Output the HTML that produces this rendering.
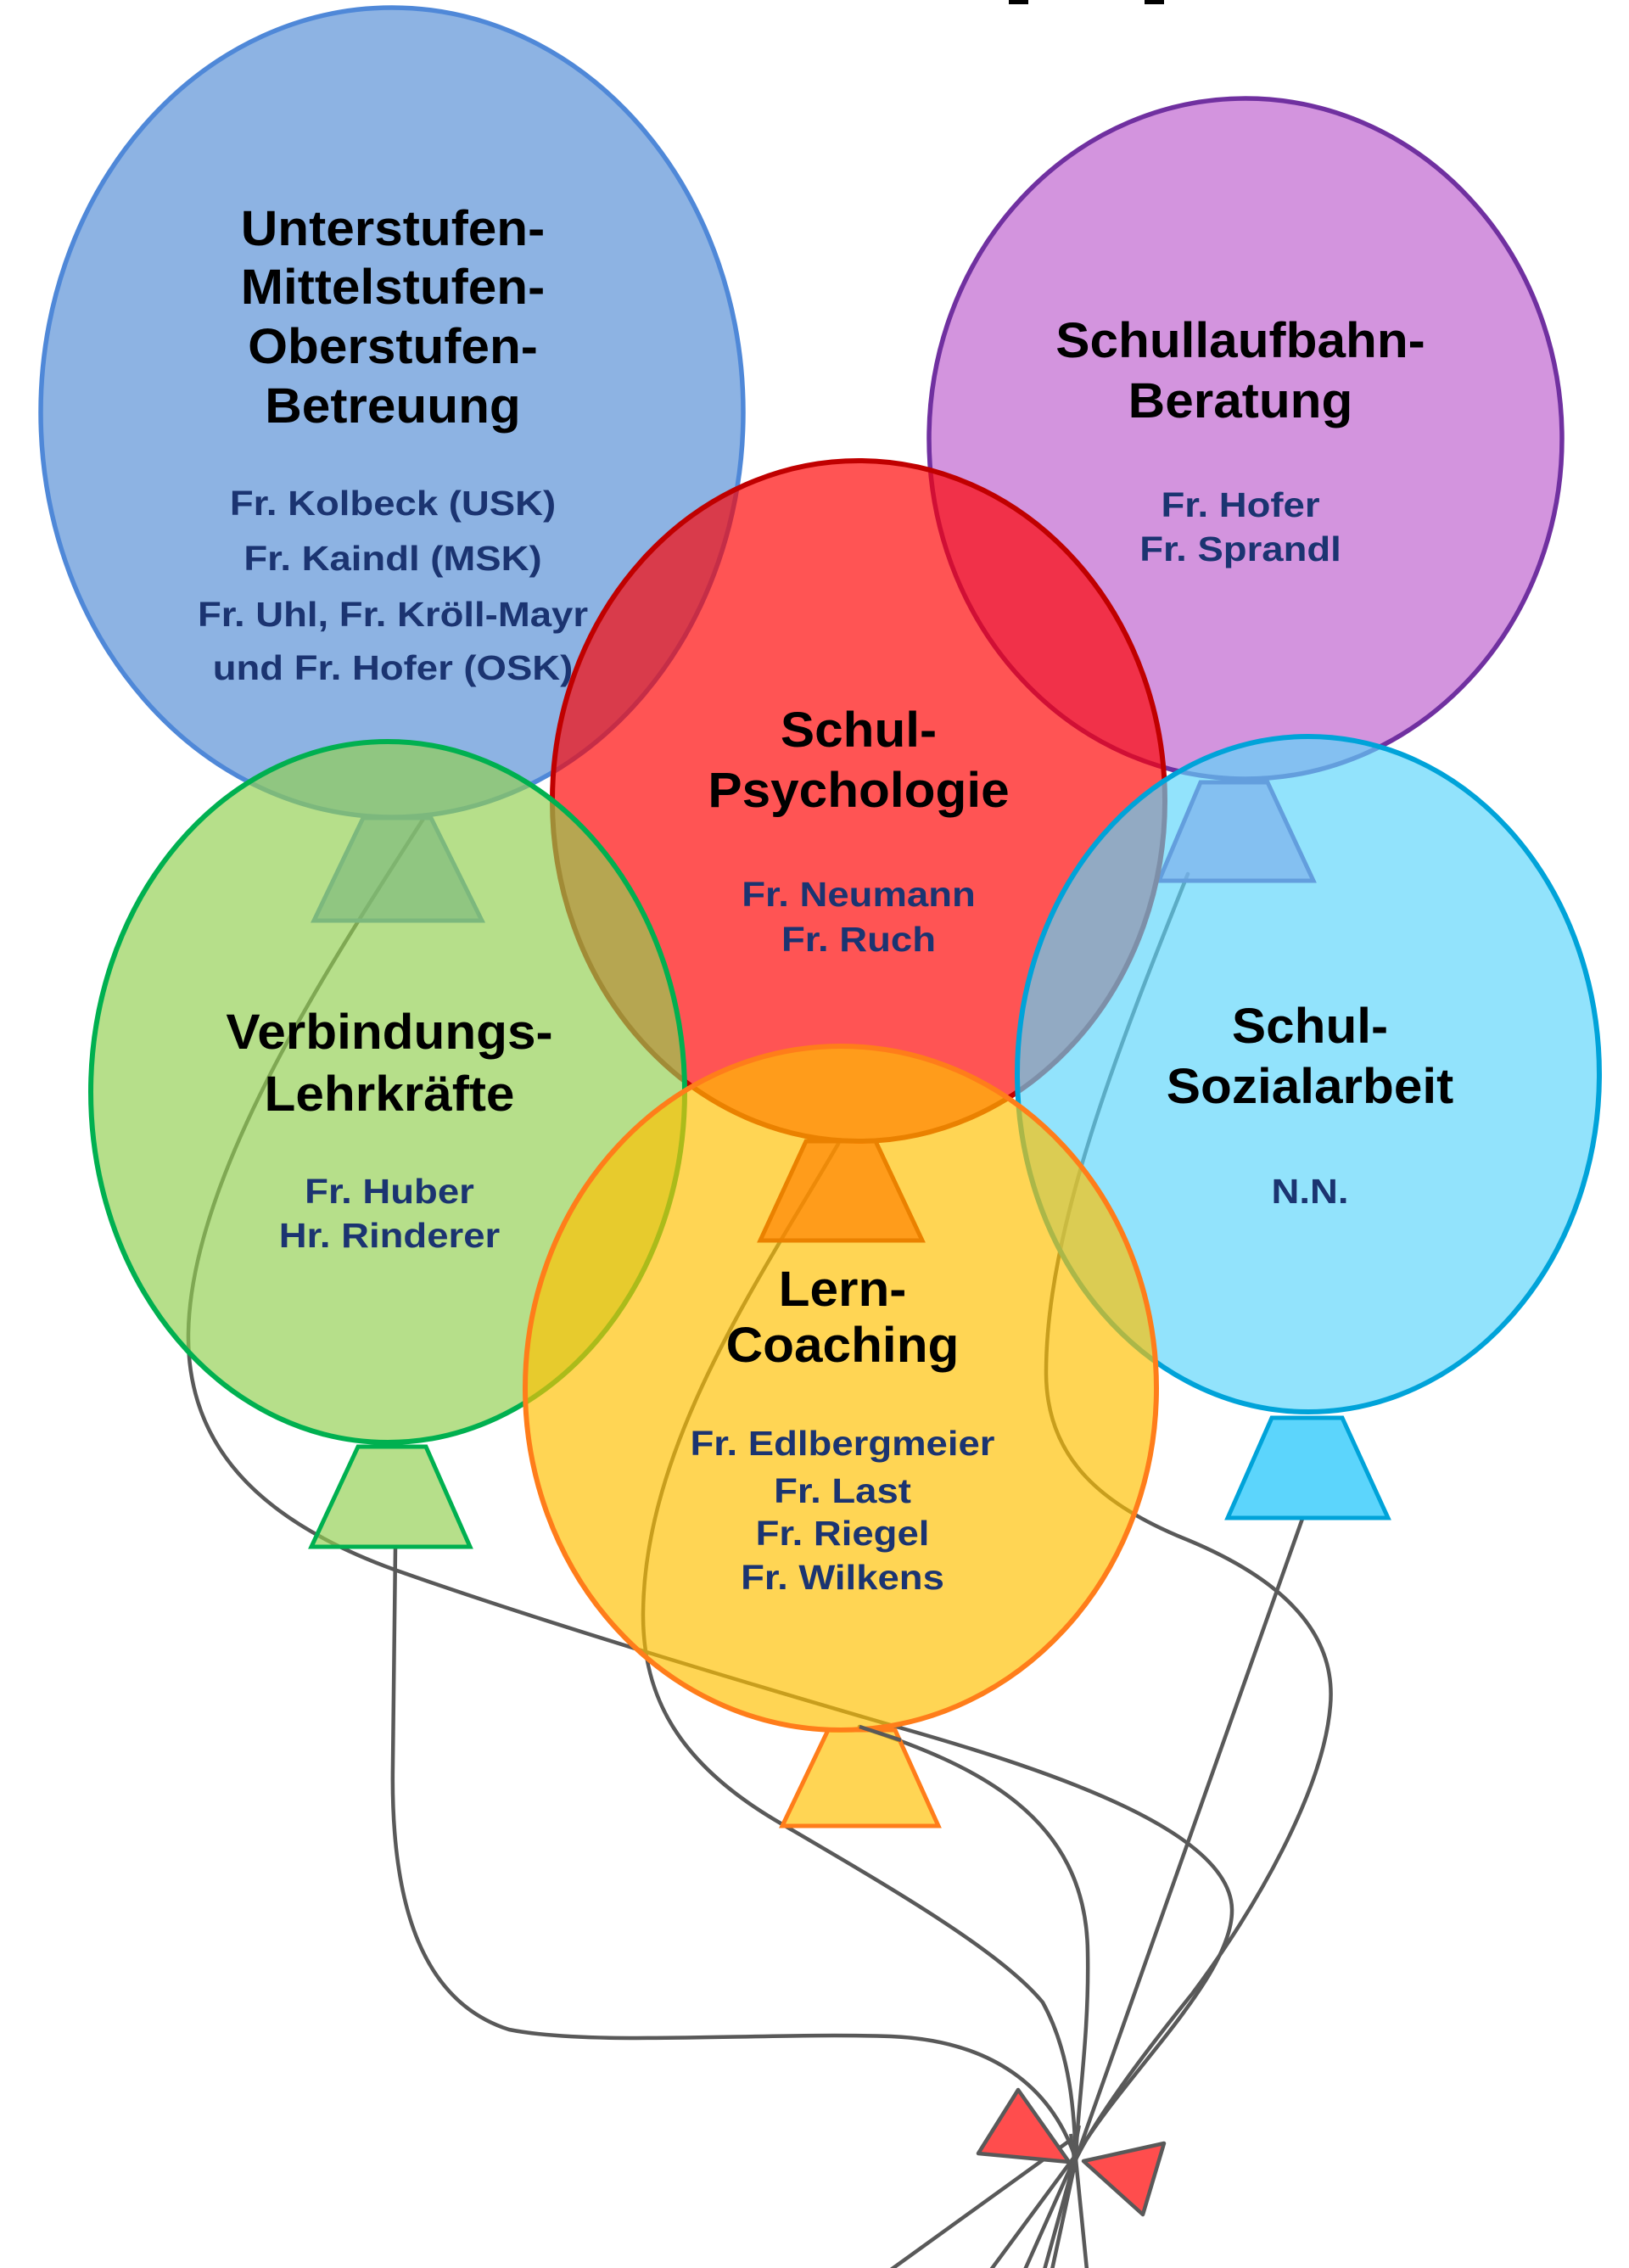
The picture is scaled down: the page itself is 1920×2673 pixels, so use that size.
<!DOCTYPE html>
<html>
<head>
<meta charset="utf-8">
<style>
html,body{margin:0;padding:0;background:#fff;}
svg{display:block;}
.t{font-family:"Liberation Sans",Arial,sans-serif;font-weight:bold;fill:#000;font-size:58px;}
.n{font-family:"Liberation Sans",Arial,sans-serif;font-weight:bold;fill:#1b3471;font-size:41px;}
</style>
</head>
<body>
<svg width="1920" height="2673" viewBox="0 0 1920 2673" xmlns="http://www.w3.org/2000/svg">
<rect x="0" y="0" width="1920" height="2673" fill="#fff"/>
<rect x="1189" y="0" width="23" height="5" fill="#000"/>
<rect x="1349" y="0" width="23" height="5" fill="#000"/>

<g fill="none" stroke="#595959" stroke-width="4.5" stroke-linecap="round">
  <path d="M 499 965 C 400 1120, 225 1380, 222 1571 C 220 1700, 300 1790, 465 1850 C 620 1905, 850 1975, 1060 2036 C 1250 2090, 1450 2160, 1452 2250 C 1454 2330, 1320 2450, 1268 2542"/>
  <path d="M 1013 2035 C 1150 2080, 1280 2140, 1282 2300 C 1284 2400, 1270 2480, 1268 2545"/>
  <path d="M 988 1348 C 900 1500, 760 1700, 758 1900 C 757 2000, 800 2080, 922 2150 C 1050 2225, 1180 2300, 1229 2360 C 1262 2420, 1266 2490, 1268 2545"/>
  <path d="M 1400 1030 C 1320 1230, 1232 1450, 1233 1620 C 1234 1720, 1300 1775, 1400 1815 C 1520 1865, 1575 1930, 1568 2010 C 1560 2110, 1480 2250, 1405 2350 C 1340 2430, 1290 2500, 1268 2545"/>
  <path d="M 1535 1790 L 1268 2545"/>
  <path d="M 466 1824 L 463 2080 C 460 2250, 500 2360, 600 2392 C 700 2412, 900 2395, 1050 2400 C 1170 2405, 1240 2460, 1268 2545"/>
  <path d="M 1262 2522 L 1050 2675"/>
  <path d="M 1264 2545 L 1168 2675"/>
  <path d="M 1266 2545 L 1208 2675"/>
  <path d="M 1267 2545 L 1231 2675"/>
  <path d="M 1268 2545 L 1240 2675"/>
  <path d="M 1268 2545 L 1281 2675"/>
</g>

<ellipse cx="462" cy="486" rx="414" ry="477" fill="#558ed5" fill-opacity="0.67" stroke="#4f88d8" stroke-width="5.5"/>
<polygon points="428,964 508,964 568,1085 370,1085" fill="#558ed5" fill-opacity="0.67" stroke="#4f88d8" stroke-width="5"/>
<g transform="translate(463,0) scale(1.04,1)">
  <text class="t" x="0" y="289" text-anchor="middle">Unterstufen-</text>
  <text class="t" x="0" y="358" text-anchor="middle">Mittelstufen-</text>
  <text class="t" x="0" y="428" text-anchor="middle">Oberstufen-</text>
  <text class="t" x="0" y="498" text-anchor="middle">Betreuung</text>
</g>
<g transform="translate(463,0) scale(1.11,1)">
  <text class="n" x="0" y="607" text-anchor="middle">Fr. Kolbeck (USK)</text>
  <text class="n" x="0" y="672" text-anchor="middle">Fr. Kaindl (MSK)</text>
  <text class="n" x="0" y="738" text-anchor="middle">Fr. Uhl, Fr. Kröll-Mayr</text>
  <text class="n" x="0" y="801" text-anchor="middle">und Fr. Hofer (OSK)</text>
</g>

<ellipse cx="1468" cy="517" rx="373" ry="401" fill="#be5fce" fill-opacity="0.67" stroke="#7030a0" stroke-width="5.5"/>
<polygon points="1415,922 1494,922 1548,1038 1366,1038" fill="#be5fce" fill-opacity="0.67" stroke="#7030a0" stroke-width="5"/>
<g transform="translate(1462,0) scale(1.04,1)">
  <text class="t" x="0" y="421" text-anchor="middle">Schullaufbahn-</text>
  <text class="t" x="0" y="492" text-anchor="middle">Beratung</text>
</g>
<g transform="translate(1462,0) scale(1.11,1)">
  <text class="n" x="0" y="609" text-anchor="middle">Fr. Hofer</text>
  <text class="n" x="0" y="661" text-anchor="middle">Fr. Sprandl</text>
</g>

<ellipse cx="1012" cy="944" rx="361" ry="401" fill="#ff0000" fill-opacity="0.67" stroke="#c00000" stroke-width="6"/>
<polygon points="950,1345 1032,1345 1087,1462 896,1462" fill="#ff0000" fill-opacity="0.67" stroke="#c00000" stroke-width="5"/>
<g transform="translate(1012,0) scale(1.04,1)">
  <text class="t" x="0" y="880" text-anchor="middle">Schul-</text>
  <text class="t" x="0" y="951" text-anchor="middle">Psychologie</text>
</g>
<g transform="translate(1012,0) scale(1.11,1)">
  <text class="n" x="0" y="1068" text-anchor="middle">Fr. Neumann</text>
  <text class="n" x="0" y="1121" text-anchor="middle">Fr. Ruch</text>
</g>

<ellipse cx="457" cy="1287" rx="350" ry="413" fill="#92d050" fill-opacity="0.67" stroke="#00b050" stroke-width="6"/>
<polygon points="422,1705 502,1705 554,1823 367,1823" fill="#92d050" fill-opacity="0.67" stroke="#00b050" stroke-width="5"/>
<g transform="translate(459,0) scale(1.04,1)">
  <text class="t" x="0" y="1236" text-anchor="middle">Verbindungs-</text>
  <text class="t" x="0" y="1309" text-anchor="middle">Lehrkräfte</text>
</g>
<g transform="translate(459,0) scale(1.11,1)">
  <text class="n" x="0" y="1418" text-anchor="middle">Fr. Huber</text>
  <text class="n" x="0" y="1470" text-anchor="middle">Hr. Rinderer</text>
</g>

<ellipse cx="1542" cy="1266" rx="343" ry="398" fill="#5cd5fb" fill-opacity="0.67" stroke="#00a3d9" stroke-width="6"/>
<polygon points="1499,1671 1582,1671 1636,1789 1447,1789" fill="#5cd5fc" stroke="#00a3d9" stroke-width="5"/>
<g transform="translate(1544,0) scale(1.04,1)">
  <text class="t" x="0" y="1229" text-anchor="middle">Schul-</text>
  <text class="t" x="0" y="1300" text-anchor="middle">Sozialarbeit</text>
</g>
<g transform="translate(1544,0) scale(1.11,1)">
  <text class="n" x="0" y="1418" text-anchor="middle">N.N.</text>
</g>

<ellipse cx="991" cy="1636" rx="372" ry="403" fill="#ffc000" fill-opacity="0.67" stroke="#ff7d1a" stroke-width="6"/>
<polygon points="976,2039 1055,2039 1106,2152 922,2152" fill="#ffc000" fill-opacity="0.67" stroke="#ff7d1a" stroke-width="5"/>
<g transform="translate(993,0) scale(1.04,1)">
  <text class="t" x="0" y="1539" text-anchor="middle">Lern-</text>
  <text class="t" x="0" y="1605" text-anchor="middle">Coaching</text>
</g>
<g transform="translate(993,0) scale(1.11,1)">
  <text class="n" x="0" y="1715" text-anchor="middle">Fr. Edlbergmeier</text>
  <text class="n" x="0" y="1771" text-anchor="middle">Fr. Last</text>
  <text class="n" x="0" y="1821" text-anchor="middle">Fr. Riegel</text>
  <text class="n" x="0" y="1873" text-anchor="middle">Fr. Wilkens</text>
</g>

<path d="M 1013 2035 C 1035 2042, 1050 2047, 1062 2051" fill="none" stroke="#595959" stroke-width="4.5"/>

<g fill="#ff4d4d" stroke="#595959" stroke-width="4.5" stroke-linejoin="round">
  <polygon points="1200,2463 1153,2538 1260,2548"/>
  <polygon points="1277,2547 1372,2526 1347,2610"/>
</g>
<g fill="none" stroke="#595959" stroke-width="4">
  <path d="M 1262 2515 L 1268 2560"/>
  <path d="M 1272 2505 L 1262 2560"/>
</g>
</svg>
</body>
</html>
